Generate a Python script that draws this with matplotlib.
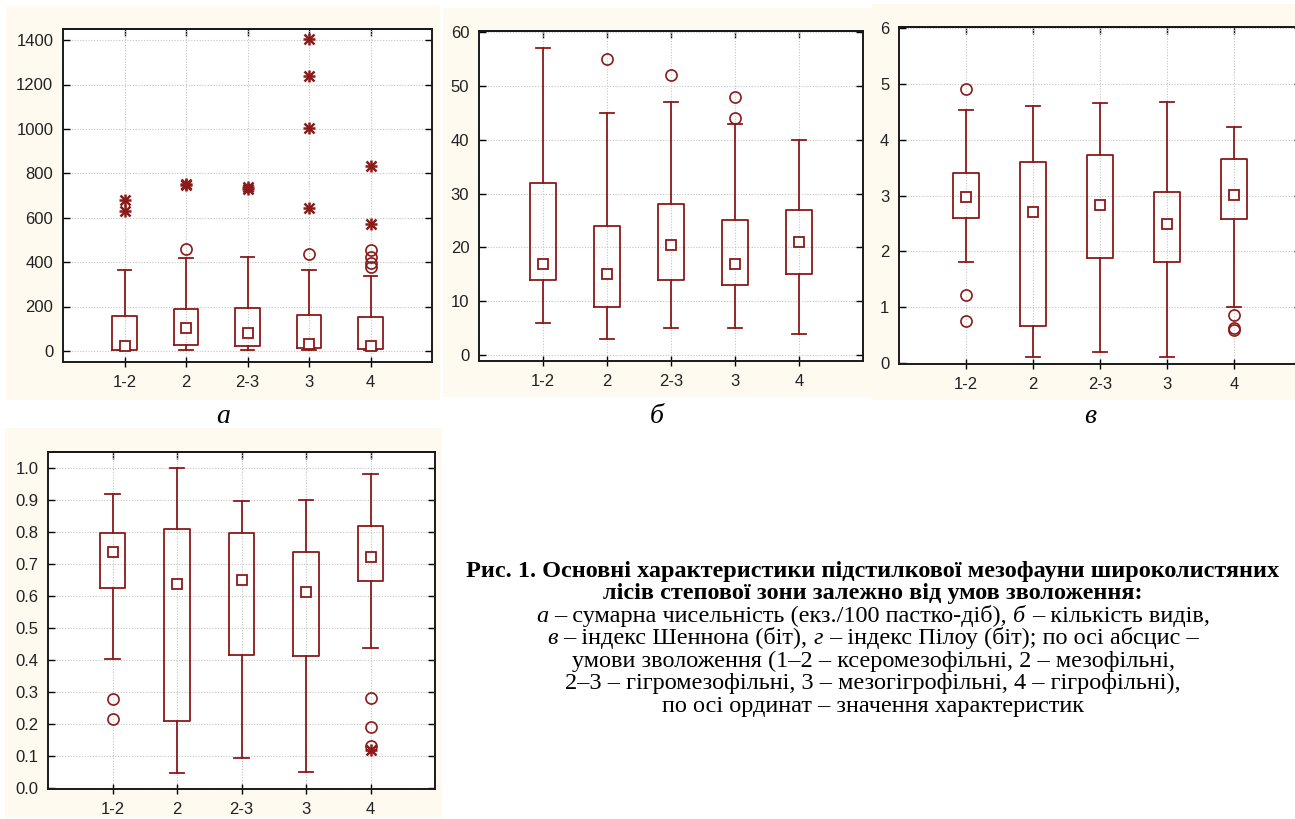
#!/usr/bin/env python

"""
Box plots of litter mesofauna characteristics (4 panels) + figure caption
"""

import matplotlib
matplotlib.use('Agg')
from matplotlib import pyplot as plt
from matplotlib.patches import Rectangle

plt.rcParams['font.family'] = ['Liberation Sans', 'DejaVu Sans']

groups = ['1-2', '2', '2-3', '3', '4']

# а - total abundance
a_med = [21, 105, 81, 33, 24]
a_q1 = [6, 28, 24, 15, 10]
a_q3 = [156, 189, 192, 160, 151]
a_lo = [5, 3, 6, 6, 3]
a_hi = [364, 417, 421, 363, 339]
a_out = [[], [457], [], [436], [453, 423, 396, 376]]
a_ext = [[681, 628], [748, 753], [728, 738], [1403, 1238, 1006, 645], [832, 573]]

# б - number of species
b_med = [17, 15, 20.5, 17, 21]
b_q1 = [14, 9, 14, 13, 15]
b_q3 = [32, 24, 28, 25, 27]
b_lo = [6, 3, 5, 5, 4]
b_hi = [57, 45, 47, 43, 40]
b_out = [[], [55], [52], [48, 44], []]
b_ext = [[], [], [], [], []]

# в - Shannon index
v_med = [2.98, 2.71, 2.83, 2.49, 3.01]
v_q1 = [2.59, 0.66, 1.88, 1.82, 2.58]
v_q3 = [3.40, 3.60, 3.72, 3.07, 3.65]
v_lo = [1.82, 0.11, 0.21, 0.11, 1.00]
v_hi = [4.52, 4.59, 4.66, 4.67, 4.22]
v_out = [[4.91, 1.23, 0.75], [], [], [], [0.87, 0.64, 0.60]]
v_ext = [[], [], [], [], []]

# г - Pielou index
g_med = [0.738, 0.639, 0.650, 0.613, 0.721]
g_q1 = [0.625, 0.210, 0.415, 0.412, 0.646]
g_q3 = [0.797, 0.808, 0.797, 0.736, 0.819]
g_lo = [0.402, 0.046, 0.093, 0.049, 0.439]
g_hi = [0.919, 1.0, 0.898, 0.900, 0.981]
g_out = [[0.277, 0.216], [], [], [], [0.281, 0.191, 0.132]]
g_ext = [[], [], [], [], [0.120]]

# caption lines: (weight, [(run, style), ...]), runs joined by a space
caption = [
    ('bold', [('Рис. 1. Основні характеристики підстилкової мезофауни широколистяних', 'normal')]),
    ('bold', [('лісів степової зони залежно від умов зволоження:', 'normal')]),
    ('normal', [('а', 'italic'), ('– сумарна чисельність (екз./100 пастко-діб),', 'normal'),
                ('б', 'italic'), ('– кількість видів,', 'normal')]),
    ('normal', [('в', 'italic'), ('– індекс Шеннона (біт),', 'normal'),
                ('г', 'italic'), ('– індекс Пілоу (біт); по осі абсцис –', 'normal')]),
    ('normal', [('умови зволоження (1–2 – ксеромезофільні, 2 – мезофільні,', 'normal')]),
    ('normal', [('2–3 – гігромезофільні, 3 – мезогігрофільні, 4 – гігрофільні),', 'normal')]),
    ('normal', [('по осі ординат – значення характеристик', 'normal')]),
]

RED = '#8b1a1a'
CREAM = '#fffaf0'
W, H = 1295, 819

fig = plt.figure(figsize=(W / 100, H / 100), dpi=100)
fig.patch.set_facecolor('white')


def px_axes(left, top, right, bottom):
    return fig.add_axes([left / W, 1 - bottom / H, (right - left) / W, (bottom - top) / H])


def cream(left, top, right, bottom):
    fig.add_artist(Rectangle((left / W, 1 - bottom / H), (right - left) / W, (bottom - top) / H,
                             transform=fig.transFigure, facecolor=CREAM, edgecolor='none', zorder=-10))


def draw_panel(ax, med, q1, q3, lo, hi, out, ext, ylim, yticks, fmt='{:g}'):
    pos = list(range(1, len(groups) + 1))
    stats = [dict(med=m, q1=a, q3=b, whislo=l, whishi=h, fliers=[])
             for m, a, b, l, h in zip(med, q1, q3, lo, hi)]
    line = dict(color=RED, lw=1.3)
    ax.bxp(stats, positions=pos, widths=0.4, capwidths=0.22, showfliers=False,
           boxprops=line, whiskerprops=line, capprops=line,
           medianprops=dict(visible=False), manage_ticks=False)
    ax.plot(pos, med, 's', mfc='white', mec=RED, ms=7, mew=1.3, zorder=4)
    for p, vals in zip(pos, out):
        ax.plot([p] * len(vals), vals, 'o', mfc='none', mec=RED, ms=8, mew=1.2, zorder=4)
    for p, vals in zip(pos, ext):
        ax.plot([p] * len(vals), vals, '+', color=RED, ms=9, mew=1.8, zorder=4)
        ax.plot([p] * len(vals), vals, 'x', color=RED, ms=7, mew=1.8, zorder=4)

    ax.set_xlim(0, 6)
    ax.set_ylim(*ylim)
    ax.set_xticks(pos, groups)
    ax.set_yticks(yticks, [fmt.format(t) for t in yticks])
    ax.set_facecolor('white')
    ax.set_axisbelow(True)
    ax.grid(True, color='#c4c4c4', linestyle=(0, (1, 1.5)), lw=0.8)
    for s in ax.spines.values():
        s.set_linewidth(1.4)
        s.set_color('#1a1a1a')
    ax.tick_params(axis='y', direction='in', left=True, right=True, length=5, width=1,
                   labelsize=12, pad=7, labelcolor='#222222')
    ax.tick_params(axis='x', direction='inout', top=False, bottom=True, length=7, width=1,
                   labelsize=12, pad=6, labelcolor='#222222')
    # short inward ticks along the top edge
    top = ax.secondary_xaxis('top')
    top.set_xticks(pos)
    top.tick_params(direction='in', length=5, width=1, labeltop=False)
    top.spines['top'].set_linewidth(1.4)
    top.spines['top'].set_color('#1a1a1a')


# cream panel backgrounds
cream(6, 6, 440, 400)
cream(443, 8, 872, 397)
cream(872, 4, 1295, 400)
cream(5, 428, 442, 818)

ax_a = px_axes(63, 29, 432, 362)
draw_panel(ax_a, a_med, a_q1, a_q3, a_lo, a_hi, a_out, a_ext,
           (-50, 1450), list(range(0, 1401, 200)))

ax_b = px_axes(479, 31, 863, 361)
draw_panel(ax_b, b_med, b_q1, b_q3, b_lo, b_hi, b_out, b_ext,
           (-1.1, 60.2), list(range(0, 61, 10)))

ax_v = px_axes(899, 27, 1301, 364)
draw_panel(ax_v, v_med, v_q1, v_q3, v_lo, v_hi, v_out, v_ext,
           (-0.01, 6.01), list(range(0, 7)))

ax_g = px_axes(48, 452, 435, 789)
draw_panel(ax_g, g_med, g_q1, g_q3, g_lo, g_hi, g_out, g_ext,
           (-0.003, 1.05), [i / 10 for i in range(11)], fmt='{:.1f}')

# panel letters
for x, letter in [(223, 'а'), (657, 'б'), (1090, 'в')]:
    fig.text(x / W, 1 - 423 / H, letter, ha='center', va='baseline',
             family='Liberation Serif', style='italic', fontsize=20)

# caption, one text per run, each line centred on x=873
renderer = fig.canvas.get_renderer()
cap_size = 17.5


def text_width(s, **kw):
    t = fig.text(0, 0, s, fontsize=cap_size, family='Liberation Serif', **kw)
    w = t.get_window_extent(renderer).width
    t.remove()
    return w


baselines = [577, 599, 622, 644, 667, 689, 712]
for (weight, runs), y in zip(caption, baselines):
    gap = text_width('x x', fontweight=weight) - text_width('xx', fontweight=weight)
    parts = [fig.text(0, 1 - y / H, s, fontsize=cap_size, family='Liberation Serif',
                      style=st, fontweight=weight, va='baseline') for s, st in runs]
    widths = [p.get_window_extent(renderer).width for p in parts]
    x = 873 - (sum(widths) + gap * (len(parts) - 1)) / 2
    for p, w in zip(parts, widths):
        p.set_x(x / W)
        x += w + gap

fig.savefig('out.png', dpi=100)
